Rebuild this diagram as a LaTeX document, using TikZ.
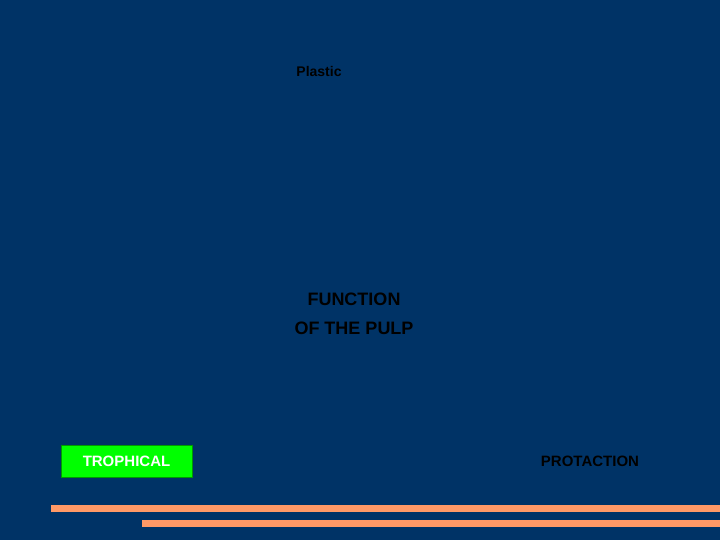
\documentclass[tikz,border=0pt]{standalone}
\usepackage{fontspec}
\setmainfont{Liberation Sans}
\definecolor{bg}{HTML}{003366}
\definecolor{bar}{HTML}{FF9966}
\definecolor{grn}{HTML}{00FF00}
\begin{document}
\begin{tikzpicture}[x=1pt,y=-1pt,
  lbl/.style={font=\bfseries\fontsize{14}{16}\selectfont,text=black,inner sep=0pt},
  barstyle/.style={fill=bar,draw=none}]
\fill[bg] (0,0) rectangle (720,540);
\useasboundingbox (0,0) rectangle (720,540);
\node[lbl] (plastic) at (319,71) {Plastic};
\node[lbl,font=\bfseries\fontsize{18}{29}\selectfont,align=center] (func) at (354,314) {FUNCTION\\OF THE PULP};
\node[lbl,fill=grn,draw=green!60!black,text=white,minimum width=131pt,minimum height=32pt,font=\bfseries\fontsize{15}{17}\selectfont] (troph) at (126.5,461) {TROPHICAL};
\node[lbl,font=\bfseries\fontsize{15}{17}\selectfont] (prot) at (590,461) {PROTACTION};
\fill[barstyle] (51,505) rectangle (720,512);
\fill[barstyle] (142,520) rectangle (720,527);
\end{tikzpicture}
\end{document}
